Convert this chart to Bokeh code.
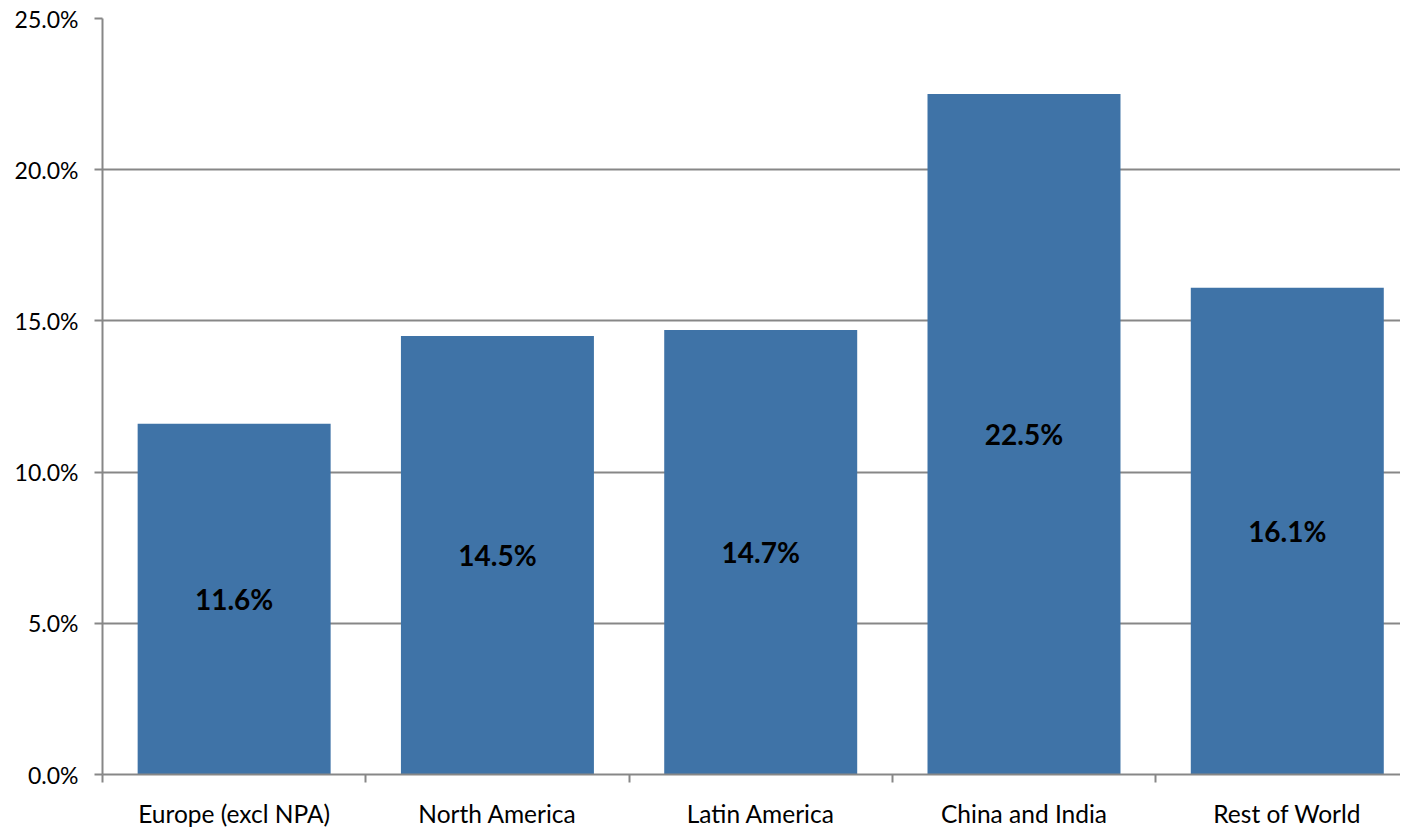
from bokeh.plotting import figure
from bokeh.models import ColumnDataSource, FixedTicker, PrintfTickFormatter, Range1d
from bokeh.core.properties import value
from bokeh.embed import file_html
from bokeh.resources import INLINE

categories = ["Europe (excl NPA)", "North America", "Latin America", "China and India", "Rest of World"]
values = [11.6, 14.5, 14.7, 22.5, 16.1]
y_ticks = [0, 5, 10, 15, 20, 25]

FONT = "Lato"
GRAY = "#878787"
BAR = "#3F73A7"

xs = [i + 0.5 for i in range(len(categories))]
src = ColumnDataSource(dict(
    x=xs, top=values, mid=[v / 2 for v in values],
    label=["%.1f%%" % v for v in values],
))

p = figure(width=1400, height=830, output_backend="svg", toolbar_location=None,
           x_range=Range1d(0, 4.93), y_range=Range1d(0, 25),
           min_border_left=102, min_border_right=0, min_border_top=18, min_border_bottom=0)
p.outline_line_color = None
p.background_fill_color = "white"
p.border_fill_color = "white"

p.vbar(x="x", top="top", bottom=0, width=0.733, source=src, color=BAR, line_color=None)
p.text(x="x", y="mid", text="label", source=src, text_align="center", text_baseline="middle",
       text_font=value(FONT), text_font_style="bold", text_font_size="28px", text_color="black")

# x axis
p.xaxis.ticker = FixedTicker(ticks=xs, minor_ticks=list(range(len(categories) + 1)))
p.xaxis.major_label_overrides = {x: c for x, c in zip(xs, categories)}
p.xaxis.major_tick_out = 0
p.xaxis.major_tick_in = 0
p.xaxis.minor_tick_out = 8
p.xaxis.minor_tick_in = 0
p.xaxis.minor_tick_line_color = GRAY
p.xaxis.minor_tick_line_width = 2
p.xaxis.axis_line_color = GRAY
p.xaxis.axis_line_width = 2
p.xaxis.major_label_text_font = FONT
p.xaxis.major_label_text_font_size = "24.5px"
p.xaxis.major_label_text_color = "black"
p.xaxis.major_label_standoff = 16

# y axis
p.yaxis.ticker = FixedTicker(ticks=y_ticks, minor_ticks=[])
p.yaxis.formatter = PrintfTickFormatter(format="%.1f%%")
p.yaxis.major_tick_out = 8
p.yaxis.major_tick_in = 0
p.yaxis.major_tick_line_color = GRAY
p.yaxis.major_tick_line_width = 2
p.yaxis.axis_line_color = GRAY
p.yaxis.axis_line_width = 2
p.yaxis.major_label_text_font = FONT
p.yaxis.major_label_text_font_size = "23px"
p.yaxis.major_label_text_color = "black"
p.yaxis.major_label_standoff = 16

p.xgrid.grid_line_color = None
p.ygrid.ticker = FixedTicker(ticks=y_ticks)
p.ygrid.grid_line_color = GRAY
p.ygrid.grid_line_width = 2

open("out.html", "w").write(file_html(p, INLINE))
